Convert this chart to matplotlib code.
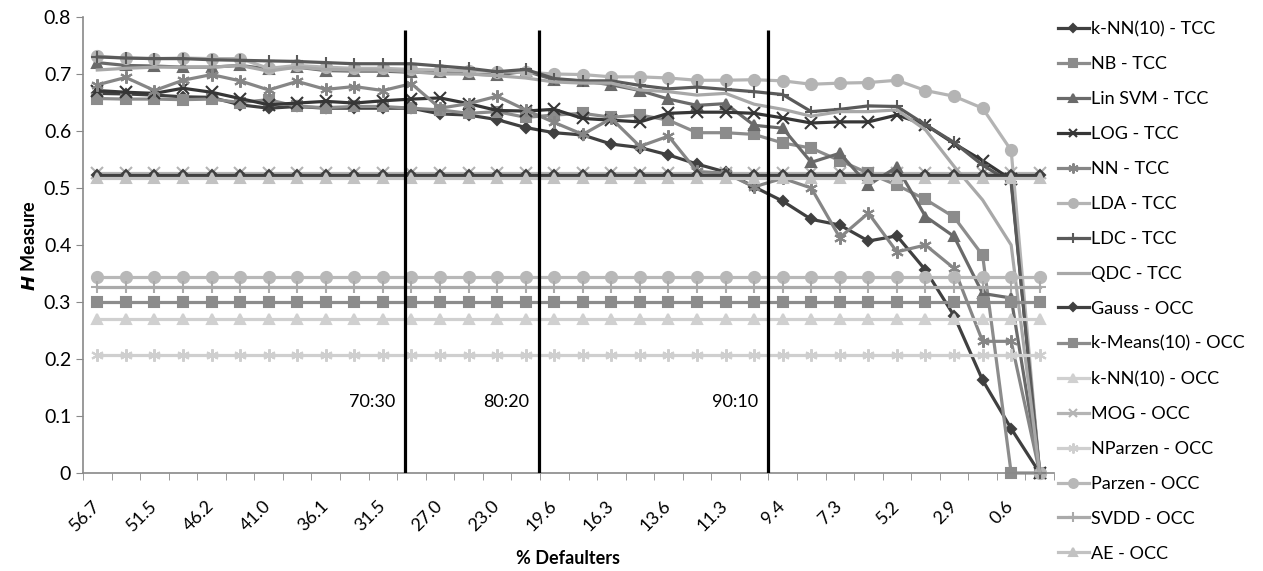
import numpy as np
import matplotlib
matplotlib.use("Agg")
import matplotlib.pyplot as plt

plt.rcParams['font.family'] = ['Lato', 'DejaVu Sans']

# category axis: % defaulters (only every other label is shown)
pct_labels = ["56.7", "51.5", "46.2", "41.0", "36.1", "31.5", "27.0", "23.0", "19.6",
              "16.3", "13.6", "11.3", "9.4", "7.3", "5.2", "2.9", "0.6"]
n_points = 34

# two-class classifiers (TCC)
knn_tcc = [0.666, 0.665, 0.663, 0.660, 0.659, 0.646, 0.640, 0.643, 0.640, 0.640, 0.640, 0.640,
           0.630, 0.628, 0.620, 0.606, 0.597, 0.593, 0.577, 0.571, 0.558, 0.542, 0.528, 0.502,
           0.477, 0.445, 0.435, 0.407, 0.416, 0.356, 0.276, 0.163, 0.078, 0.0]
nb_tcc = [0.657, 0.656, 0.656, 0.655, 0.656, 0.650, 0.655, 0.643, 0.641, 0.643, 0.643, 0.640,
          0.637, 0.631, 0.634, 0.624, 0.628, 0.631, 0.624, 0.628, 0.619, 0.597, 0.597, 0.594,
          0.579, 0.570, 0.548, 0.526, 0.505, 0.480, 0.449, 0.382, 0.0, 0.0]
linsvm_tcc = [0.720, 0.715, 0.714, 0.712, 0.712, 0.715, 0.709, 0.712, 0.706, 0.705, 0.705, 0.703,
              0.703, 0.700, 0.698, 0.705, 0.690, 0.688, 0.681, 0.671, 0.656, 0.645, 0.648, 0.610,
              0.605, 0.545, 0.561, 0.505, 0.537, 0.450, 0.415, 0.315, 0.307, 0.0]
log_tcc = [0.671, 0.668, 0.666, 0.675, 0.668, 0.657, 0.646, 0.649, 0.652, 0.649, 0.653, 0.656,
           0.658, 0.648, 0.636, 0.635, 0.638, 0.622, 0.619, 0.616, 0.631, 0.633, 0.633, 0.631,
           0.623, 0.614, 0.616, 0.616, 0.628, 0.611, 0.578, 0.548, 0.515, 0.0]
nn_tcc = [0.681, 0.694, 0.671, 0.689, 0.699, 0.688, 0.672, 0.687, 0.673, 0.678, 0.671, 0.683,
          0.640, 0.648, 0.661, 0.637, 0.615, 0.594, 0.622, 0.573, 0.591, 0.529, 0.526, 0.502,
          0.517, 0.500, 0.413, 0.456, 0.388, 0.400, 0.359, 0.231, 0.231, 0.0]
lda_tcc = [0.731, 0.728, 0.727, 0.728, 0.727, 0.727, 0.710, 0.715, 0.712, 0.710, 0.710, 0.708,
           0.707, 0.706, 0.704, 0.703, 0.700, 0.699, 0.695, 0.695, 0.693, 0.689, 0.689, 0.690,
           0.688, 0.682, 0.684, 0.685, 0.689, 0.671, 0.661, 0.640, 0.566, 0.0]
ldc_tcc = [0.730, 0.728, 0.727, 0.727, 0.725, 0.724, 0.723, 0.722, 0.720, 0.718, 0.718, 0.718,
           0.714, 0.710, 0.704, 0.708, 0.692, 0.688, 0.688, 0.680, 0.674, 0.677, 0.673, 0.669,
           0.664, 0.634, 0.638, 0.644, 0.643, 0.611, 0.580, 0.540, 0.510, 0.0]
qdc_tcc = [0.707, 0.710, 0.712, 0.712, 0.712, 0.715, 0.705, 0.712, 0.708, 0.707, 0.707, 0.704,
           0.700, 0.700, 0.697, 0.693, 0.686, 0.684, 0.684, 0.672, 0.669, 0.663, 0.666, 0.647,
           0.638, 0.626, 0.634, 0.634, 0.637, 0.602, 0.538, 0.479, 0.400, 0.0]

# one-class classifiers (OCC), flat over the whole range
gauss_occ = [0.523] * n_points
kmeans_occ = [0.300] * n_points
knn_occ = [0.270] * n_points
mog_occ = [0.527] * n_points
nparzen_occ = [0.207] * n_points
parzen_occ = [0.344] * n_points
svdd_occ = [0.326] * n_points
ae_occ = [0.517] * n_points

splits = ["70:30", "80:20", "90:10"]

series = [
    ("k-NN(10) - TCC", knn_tcc, "#404040", "D", 5.5),
    ("NB - TCC", nb_tcc, "#8c8c8c", "s", 7),
    ("Lin SVM - TCC", linsvm_tcc, "#6a6a6a", "^", 7),
    ("LOG - TCC", log_tcc, "#363636", "x", 8),
    ("NN - TCC", nn_tcc, "#868686", (6, 2, 0), 9),
    ("LDA - TCC", lda_tcc, "#b4b4b4", "o", 8),
    ("LDC - TCC", ldc_tcc, "#5a5a5a", "+", 9),
    ("QDC - TCC", qdc_tcc, "#a8a8a8", None, 0),
    ("Gauss - OCC", gauss_occ, "#404040", "D", 5.5),
    ("k-Means(10) - OCC", kmeans_occ, "#8c8c8c", "s", 7),
    ("k-NN(10) - OCC", knn_occ, "#d0d0d0", "^", 7),
    ("MOG - OCC", mog_occ, "#b4b4b4", "x", 8),
    ("NParzen - OCC", nparzen_occ, "#cfcfcf", (6, 2, 0), 9),
    ("Parzen - OCC", parzen_occ, "#b8b8b8", "o", 8),
    ("SVDD - OCC", svdd_occ, "#aaaaaa", "+", 9),
    ("AE - OCC", ae_occ, "#c2c2c2", "^", 7),
]

fig = plt.figure(figsize=(12.63, 5.71), dpi=100)
ax = fig.add_axes([83 / 1263, 1 - 473 / 571, (1054 - 83) / 1263, (473 - 17) / 571])

x = np.arange(n_points)
for i, (name, vals, col, mk, ms) in enumerate(series):
    z = 1.5 if name.startswith("MOG") else 2 + i * 0.01
    ax.plot(x, vals, color=col, lw=2.3, marker=mk, markersize=ms, markeredgewidth=1.5,
            markerfacecolor=col, markeredgecolor=col, label=name, clip_on=False, zorder=z)

# train:test split markers
split_x = [10.78, 15.47, 23.5]
ax.vlines(split_x, 0, 0.777, color="black", lw=2.3, zorder=20)
for s, sx in zip(splits, split_x):
    ax.text(sx - 0.35, 0.125, s, ha="right", va="center", fontsize=13)

ax.set_xlim(-0.5, n_points - 0.5)
ax.set_ylim(0, 0.8)
ax.set_yticks(np.arange(0, 0.81, 0.1))
ax.set_yticklabels(["0"] + ["%.1f" % v for v in np.arange(0.1, 0.81, 0.1)])
ax.set_xticks(np.arange(0, n_points, 2))
ax.set_xticklabels(pct_labels, rotation=45, ha="right", va="center", rotation_mode="anchor")
ax.set_xticks(np.arange(-0.5, n_points, 1), minor=True)
ax.tick_params(axis="x", which="major", length=0, pad=22, labelsize=13)
ax.tick_params(axis="x", which="minor", length=5, color="#898989")
ax.tick_params(axis="y", length=5, color="#898989", labelsize=14)

for sp in ["top", "right"]:
    ax.spines[sp].set_visible(False)
for sp in ["left", "bottom"]:
    ax.spines[sp].set_color("#898989")
    ax.spines[sp].set_linewidth(1.2)

ax.set_xlabel("% Defaulters", fontsize=13, fontweight="bold", labelpad=11)
ax.set_ylabel(r"$\boldsymbol{H}$ Measure", fontsize=13, fontweight="bold")

fig.legend(loc="upper left", bbox_to_anchor=(1058 / 1263, 1 - 21 / 571), frameon=False,
           fontsize=13, handlelength=1.7, handletextpad=0.15, labelspacing=1.05,
           borderpad=0, borderaxespad=0, markerscale=0.8)

fig.savefig("out.png", dpi=100)
